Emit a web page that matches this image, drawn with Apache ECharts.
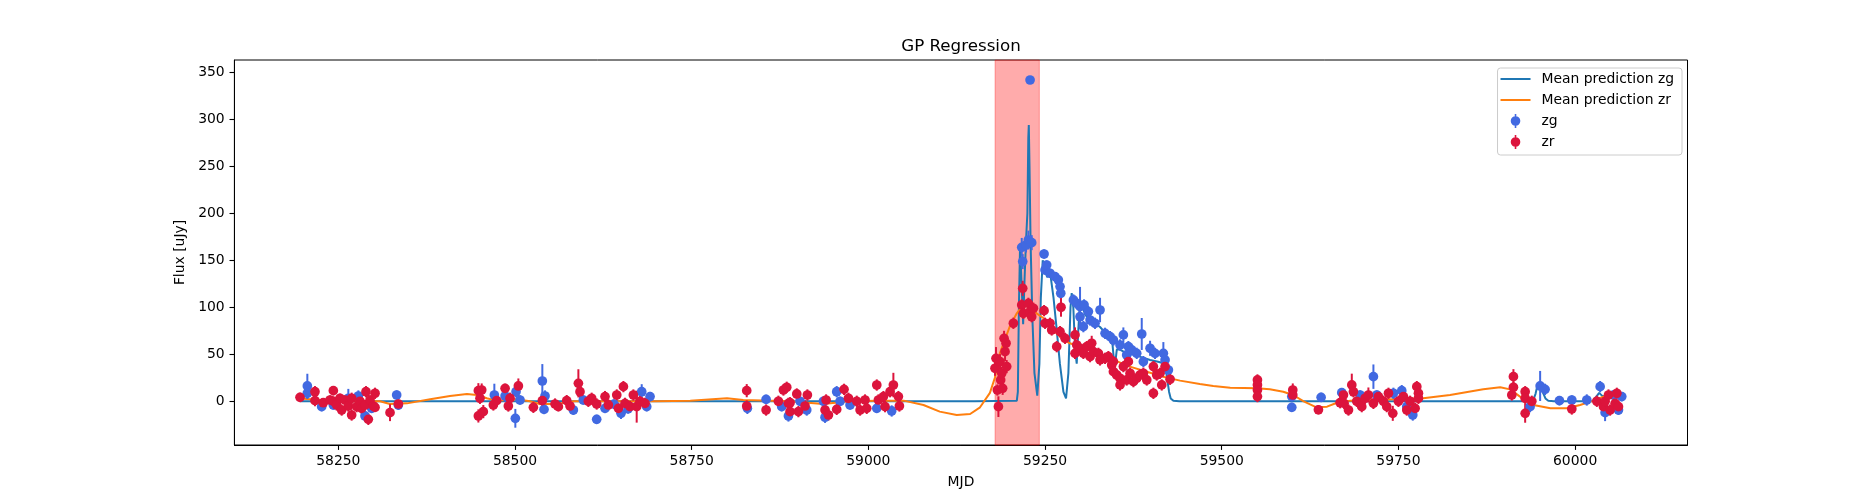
<!DOCTYPE html>
<html>
<head>
<meta charset="utf-8">
<title>GP Regression</title>
<script src="https://cdn.jsdelivr.net/npm/echarts@6/dist/echarts.min.js"></script>
<style>
  html, body { margin: 0; padding: 0; background: #fff; }
  #chart { width: 1875px; height: 500px; }
</style>
</head>
<body>
<div id="chart"></div>
<script>
// zg observations: MJD, flux [uJy], 1-sigma error
const zgMjd = [
  58206.2, 58206.2, 58226.5, 58243.0, 58264.2, 58278.4, 58287.8, 58297.2, 58332.6, 58335.0,
  58470.8, 58486.0, 58500.5, 58501.5, 58507.1, 58538.7, 58541.1, 58542.5, 58582.6, 58596.7,
  58615.6, 58627.4, 58640.0, 58650.0, 58660.0, 58679.3, 58686.4, 58691.1,
  58828.8, 58855.3, 58877.4, 58886.9, 58903.4, 58912.8, 58936.4, 58938.7, 58955.2, 58960.0,
  58974.1, 59011.9, 59033.0,
  59217.0, 59218.4, 59223.1, 59226.4, 59228.8, 59231.1, 59248.6, 59250.0, 59252.3, 59257.0,
  59264.1, 59268.8, 59271.2, 59272.2, 59290.1, 59294.8, 59299.5, 59299.5, 59304.2, 59305.2,
  59311.3, 59313.7, 59320.7, 59327.8, 59334.9, 59342.0, 59346.7, 59356.1, 59360.8, 59365.5,
  59367.9, 59372.6, 59379.7, 59386.8, 59389.1, 59398.6, 59405.6, 59417.4, 59419.8, 59424.5,
  59599.1, 59599.1, 59640.6, 59669.8, 59695.8, 59714.6, 59719.3, 59742.9, 59754.7, 59761.8,
  59770.3,
  59936.3, 59950.5, 59957.5, 59977.8, 59995.3, 60016.5, 60035.4, 60042.4, 60054.2, 60061.3,
  60066.0
]
const zgFlux = [
  16.3, 8.5, -5.7, -3.9, 3.2, 5.6, -15.6, -7.5, 6.7, -4.0,
  6.7, 5.6, -18.1, 10.2, 1.4, 21.6, -8.6, 5.6, -9.3, 1.4,
  -19.2, -7.5, -3.0, -12.8, -8.0, 10.2, -5.7, 5.0,
  -7.5, 2.1, -5.7, -15.6, 0.0, -9.3, 0.0, -17.0, 10.2, 0.0,
  -3.9, -7.5, -10.3,
  163.8, 148.6, 166.3, 171.6, 341.8, 168.8, 156.7, 139.7, 145.0, 136.2,
  132.6, 129.1, 122.0, 114.9, 107.8, 104.2, 100.7, 90.0, 79.4, 102.5,
  95.4, 86.5, 83.0, 97.1, 72.3, 68.8, 65.2, 59.9, 70.6, 49.3,
  58.1, 54.6, 51.0, 71.6, 42.2, 56.4, 51.0, 51.0, 44.0, 33.3,
  -6.4, 5.0, 4.2, 9.2, 6.7, 26.2, 6.7, 8.5, 11.3, -5.7,
  -14.6,
  -5.7, 16.3, 12.7, 0.7, 1.4, 1.4, 15.6, -12.1, 6.7, -9.3,
  5.0
]
const zgErr = [
  13, 6, 5, 5, 10, 6, 6, 5, 5, 5,
  12, 6, 10, 6, 5, 18, 5, 6, 5, 5,
  5, 5, 5, 6, 5, 8, 5, 5,
  6, 5, 5, 6, 5, 6, 5, 6, 6, 5,
  5, 5, 6,
  10, 8, 8, 10, 4, 8, 5, 5, 5, 5,
  5, 5, 5, 6, 6, 6, 21, 6, 6, 6,
  6, 6, 6, 13, 6, 6, 6, 6, 8, 6,
  6, 6, 6, 17, 6, 8, 6, 12, 6, 6,
  5, 5, 5, 5, 5, 13, 5, 6, 6, 5,
  6,
  6, 16, 6, 5, 5, 6, 6, 9, 5, 5,
  5
]

// zr observations
const zrMjd = [
  58195.8, 58217.0, 58217.0, 58228.8, 58238.3, 58243.0, 58243.0, 58247.7, 58252.4, 58254.8,
  58259.5, 58264.2, 58268.9, 58268.9, 58276.0, 58280.7, 58283.0, 58287.8, 58289.2, 58292.5,
  58294.9, 58299.6, 58302.0, 58302.0, 58323.2, 58335.0,
  58448.2, 58448.2, 58450.5, 58452.9, 58455.2, 58469.4, 58474.1, 58486.0, 58490.6, 58493.0,
  58504.8, 58526.0, 58538.7, 58556.7, 58561.4, 58573.2, 58577.9, 58589.7, 58592.0, 58603.8,
  58608.5, 58615.6, 58627.4, 58632.1, 58644.0, 58646.3, 58653.4, 58655.7, 58662.8, 58667.5,
  58672.2, 58676.9, 58684.0,
  58827.9, 58827.9, 58855.3, 58872.7, 58879.8, 58884.5, 58886.9, 58889.2, 58889.2, 58898.7,
  58901.0, 58910.4, 58913.7, 58938.7, 58940.2, 58943.5, 58955.2, 58965.6, 58971.8, 58983.6,
  58988.3, 58995.3, 58997.7, 59011.9, 59014.2, 59021.3, 59023.6, 59030.7, 59035.4, 59042.5,
  59043.9,
  59179.2, 59180.6, 59182.5, 59184.0, 59186.3, 59187.2, 59188.7, 59190.0, 59192.0, 59193.4,
  59194.8, 59195.7, 59205.2, 59217.0, 59218.4, 59219.3, 59226.4, 59228.8, 59231.1, 59233.5,
  59248.6, 59250.0, 59257.0, 59259.4, 59266.5, 59271.2, 59272.6, 59278.3, 59292.4, 59292.4,
  59294.8, 59299.5, 59304.2, 59309.0, 59313.7, 59316.0, 59318.4, 59325.5, 59327.8, 59334.9,
  59339.6, 59344.3, 59346.7, 59346.7, 59351.4, 59356.1, 59356.1, 59360.8, 59365.5, 59367.9,
  59370.3, 59375.0, 59379.7, 59384.4, 59389.1, 59393.9, 59403.3, 59403.3, 59408.0, 59412.7,
  59415.1, 59419.8, 59426.9,
  59550.5, 59550.5, 59550.5, 59550.5, 59600.5, 59600.5, 59636.8, 59667.5, 59672.2, 59673.1,
  59679.3, 59684.0, 59686.3, 59691.0, 59698.1, 59702.8, 59707.5, 59714.6, 59721.7, 59728.8,
  59733.5, 59735.9, 59742.0, 59750.0, 59757.1, 59761.8, 59766.5, 59773.6, 59776.0, 59778.3,
  59778.3,
  59910.4, 59912.7, 59912.7, 59929.3, 59929.3, 59929.3, 59938.7, 59995.3, 60030.7, 60040.1,
  60042.4, 60047.2, 60049.5, 60056.6, 60059.0, 60061.3
]
const zrFlux = [
  4.2, 10.2, 0.7, -1.5, 1.4, 11.3, 0.0, -3.9, 3.2, -9.3,
  1.4, -5.0, 3.2, -14.6, -5.7, 0.0, -7.5, -3.9, 10.2, -19.2,
  1.4, -5.0, 8.5, -6.4, -12.1, -2.9,
  11.3, -15.6, 3.2, 12.0, -11.0, -3.9, 0.7, 13.8, -5.0, 3.2,
  16.3, -6.4, 0.7, -2.9, -5.7, 0.7, -5.0, 19.1, 10.2, 0.0,
  3.2, -2.9, 5.0, -3.9, 6.7, -7.5, 15.6, -2.2, -5.7, 6.7,
  -5.7, 0.0, -2.2,
  11.3, -5.0, -9.3, 0.0, 12.0, 14.9, -2.2, -11.0, -1.5, 7.8,
  -11.0, -5.0, 6.7, -9.3, 1.4, -14.6, -8.6, 12.7, 3.2, 0.0,
  -9.3, 1.4, -7.5, 17.3, 1.4, 5.0, -5.7, 10.2, 17.3, 5.0,
  -5.0,
  35.1, 45.7, 12.0, -5.7, 42.2, 22.7, 29.8, 13.8, 67.0, 52.8,
  61.7, 36.9, 83.0, 102.5, 120.2, 93.6, 104.2, 95.4, 90.0, 99.0,
  96.4, 83.0, 83.0, 75.9, 58.1, 74.1, 100.0, 67.0, 70.6, 51.0,
  59.9, 56.4, 51.0, 58.1, 47.5, 61.7, 52.8, 51.0, 44.0, 45.7,
  47.5, 38.6, 31.5, 42.2, 28.0, 24.5, 17.4, 36.9, 22.7, 42.2,
  29.8, 20.9, 24.5, 28.0, 29.8, 22.7, 36.9, 8.5, 28.0, 29.8,
  17.4, 36.9, 23.4,
  22.7, 17.4, 12.0, 5.0, 12.0, 6.7, -9.0, -1.5, 6.7, -2.2,
  -9.3, 17.4, 10.2, 0.0, -5.7, 3.2, 6.7, -2.2, 5.0, 0.0,
  -5.7, 8.5, -12.8, 0.0, 5.0, -9.3, 0.0, -7.5, 15.6, 3.2,
  8.5,
  6.7, 26.2, 14.9, 10.2, 3.2, -12.8, 0.0, -8.2, 0.0, -5.7,
  0.0, 6.7, -9.3, -2.2, 8.5, -5.7
]
const zrErr = [
  5, 6, 6, 5, 5, 5, 5, 6, 5, 6,
  5, 6, 6, 6, 6, 5, 6, 5, 6, 6,
  5, 6, 6, 5, 9, 5,
  8, 7, 6, 7, 7, 6, 6, 5, 6, 6,
  8, 6, 6, 6, 5, 6, 6, 15, 8, 6,
  6, 6, 6, 6, 6, 6, 6, 6, 6, 6,
  17, 6, 6,
  7, 6, 6, 6, 6, 6, 6, 6, 6, 6,
  6, 6, 6, 6, 6, 6, 6, 6, 6, 6,
  6, 6, 6, 6, 6, 6, 6, 6, 13, 6,
  6,
  8, 12, 6, 11, 8, 7, 7, 7, 8, 10,
  8, 7, 6, 6, 8, 6, 6, 6, 6, 6,
  6, 6, 6, 6, 6, 6, 10, 6, 8, 6,
  6, 6, 6, 6, 6, 8, 6, 6, 6, 6,
  6, 6, 6, 6, 6, 6, 6, 6, 6, 6,
  6, 6, 6, 6, 6, 6, 6, 6, 6, 6,
  6, 6, 6,
  6, 6, 6, 6, 7, 6, 5, 6, 6, 6,
  6, 12, 6, 6, 6, 6, 8, 6, 6, 6,
  6, 6, 8, 6, 6, 6, 6, 6, 6, 6,
  6,
  6, 8, 6, 6, 6, 10, 6, 6, 6, 6,
  6, 6, 6, 6, 6, 6
]

// GP mean prediction, zg band
const predGMjd = [
  58196, 59150, 59210, 59211.5, 59213, 59214.6, 59216.5, 59219, 59221, 59223,
  59225, 59226.3, 59227, 59228, 59229.5, 59232, 59235, 59239, 59242, 59244,
  59246.7, 59250, 59253, 59257, 59262, 59266, 59271, 59276, 59279.7, 59283,
  59286, 59287.7, 59290, 59292.5, 59294.8, 59297, 59299.5, 59303, 59307, 59313.7,
  59320, 59327.8, 59335, 59342, 59345.5, 59348.5, 59351.5, 59356, 59363, 59370,
  59384, 59398.6, 59410, 59417.4, 59421, 59423, 59425.5, 59427.8, 59431.6, 59440,
  59940, 59944, 59947, 59950.5, 59954, 59958, 59962, 59970, 60025, 60030,
  60034, 60038, 60045, 60062
]
const predG = [
  0, 0, 0.5, 10, 100, 164, 130, 82, 130, 170,
  200, 280, 294, 250, 170, 90, 30, 6, 40, 110,
  150, 140, 132, 138, 110, 80, 40, 10, 3, 30,
  100, 115, 100, 55, 40, 75, 108, 100, 92, 86,
  83, 79, 73, 68, 60, 35, 55, 55, 52, 51,
  47.5, 44, 42, 40.4, 33, 22.7, 10, 3, 0.5, 0,
  0, 8, 18, 19, 10, 3, 0.5, 0, 0, 5,
  9, 6, 5, 5
]

// GP mean prediction, zr band
const predRMjd = [
  58196, 58230, 58270, 58309, 58323, 58347, 58380, 58408, 58432, 58446,
  58460, 58474, 58502, 58521, 58535, 58559, 58583, 58630, 58700, 58748,
  58800, 58823, 58889, 58936, 58974, 59012, 59050, 59078, 59101, 59125,
  59144, 59158, 59172, 59179, 59186, 59193, 59200, 59210, 59219, 59229,
  59238, 59248, 59257, 59271, 59285, 59300, 59323, 59347, 59370, 59394,
  59417, 59441, 59469, 59488, 59512, 59550, 59568, 59587, 59601, 59616,
  59634, 59649, 59663, 59682, 59785, 59823, 59870, 59894, 59908, 59922,
  59941, 59965, 59988, 60007, 60026, 60040, 60062
]
const predR = [
  3, 1, 0, 0, -2.9, -2.2, 2.1, 5.6, 7.8, 6.7,
  3.2, 0.7, 2.1, 0, -2.9, -2.9, 0, 0, 0, 0.7,
  3.2, 1.4, 0, -2.9, 0, 0.7, 0.7, -3.9, -11, -14.6,
  -13.5, -6.4, 9, 25, 51, 65.2, 79.4, 93.6, 102.5, 100.7,
  93.6, 88.3, 79.4, 68.8, 61.7, 58.1, 51, 44, 36.9, 31.5,
  26.2, 22, 18.5, 16.3, 14.5, 13.8, 12.7, 10.2, 6.7, 0,
  -6.4, -5.7, -1.5, 0.7, 3.2, 6.7, 12.7, 14.9, 12.7, 5,
  -3.9, -7.5, -7.5, -3.9, 0.7, 5, 6.7
]

// shaded interval and ticks
const spanStart = 59179.3
const spanEnd = 59241.9
const xTicks = [58250, 58500, 58750, 59000, 59250, 59500, 59750, 60000]
const yTicks = [0, 50, 100, 150, 200, 250, 300, 350]

const FONT = 'DejaVu Sans'
const X_MIN = 58103
const X_MAX = 60159
const Y_MIN = -46.5
const Y_MAX = 363.1
const ERR_ICON = 'path://M0,7 A4.8,4.8 0 1,1 9.6,7 A4.8,4.8 0 1,1 0,7 Z M4,0 L5.6,0 L5.6,14 L4,14 Z'
const LINE_ICON = 'path://M0,0 L30,0 L30,2 L0,2 Z'

function pairs(xs, ys) {
  return xs.map((x, i) => [x, ys[i]])
}

// vertical error bars drawn through the axes' own coordinate system
function errorBars(name, mjd, flux, err, color) {
  return {
    name: name,
    type: 'custom',
    z: 3,
    clip: true,
    silent: true,
    encode: { x: 0, y: 1 },
    data: mjd.map((t, i) => [t, flux[i], err[i]]),
    renderItem(params, api) {
      const t = api.value(0)
      const f = api.value(1)
      const e = api.value(2)
      const lo = api.coord([t, f - e])
      const hi = api.coord([t, f + e])
      return {
        type: 'line',
        shape: { x1: lo[0], y1: lo[1], x2: hi[0], y2: hi[1] },
        style: { stroke: color, lineWidth: 2 }
      }
    }
  }
}

function points(name, mjd, flux, color) {
  return {
    name: name,
    type: 'scatter',
    z: 3,
    symbol: 'circle',
    symbolSize: 9.7,
    itemStyle: { color: color, opacity: 1 },
    data: pairs(mjd, flux)
  }
}

const chart = echarts.init(document.getElementById('chart'), null, { renderer: 'canvas' })

const option = {
  animation: false,
  backgroundColor: '#fff',
  textStyle: { fontFamily: FONT },
  graphic: [{
    type: 'text',
    x: 961,
    y: 47,
    style: {
      text: 'GP Regression',
      fill: '#000',
      fontSize: 16.7,
      fontFamily: FONT,
      align: 'center',
      verticalAlign: 'middle'
    }
  }],
  grid: {
    left: 234.4,
    right: 187.5,
    top: 60,
    bottom: 55,
    show: true,
    borderColor: '#000',
    borderWidth: 1,
    containLabel: false,
    outerBoundsMode: 'none'
  },
  legend: {
    orient: 'vertical',
    right: 193,
    top: 68,
    padding: [4, 8, 6, 3],
    itemWidth: 30,
    itemHeight: 14,
    itemGap: 7,
    backgroundColor: 'rgba(255,255,255,0.8)',
    borderColor: '#cccccc',
    borderWidth: 1,
    borderRadius: 3,
    textStyle: { fontSize: 13.9, color: '#000', fontFamily: FONT, lineHeight: 14, padding: [0, 0, 0, 6] },
    data: [
      { name: 'Mean prediction zg', icon: LINE_ICON, itemStyle: { color: '#1f77b4', borderWidth: 0 } },
      { name: 'Mean prediction zr', icon: LINE_ICON, itemStyle: { color: '#ff7f0e', borderWidth: 0 } },
      { name: 'zg', icon: ERR_ICON, itemStyle: { color: '#4169e1', borderWidth: 0 } },
      { name: 'zr', icon: ERR_ICON, itemStyle: { color: '#dc143c', borderWidth: 0 } }
    ]
  },
  xAxis: {
    type: 'value',
    min: X_MIN,
    max: X_MAX,
    name: 'MJD',
    nameLocation: 'middle',
    nameGap: 30,
    nameTextStyle: { fontSize: 13.9, color: '#000', fontFamily: FONT },
    axisLine: { onZero: false, lineStyle: { color: '#000', width: 1 } },
    axisTick: { customValues: xTicks, length: 4.9, lineStyle: { color: '#000', width: 1.1 } },
    axisLabel: {
      customValues: xTicks,
      margin: 9.7,
      fontSize: 13.9,
      color: '#000',
      fontFamily: FONT,
      formatter: v => String(v)
    },
    splitLine: { show: false }
  },
  yAxis: {
    type: 'value',
    min: Y_MIN,
    max: Y_MAX,
    name: 'Flux [uJy]',
    nameLocation: 'middle',
    nameGap: 42,
    nameRotate: 90,
    nameTextStyle: { fontSize: 13.9, color: '#000', fontFamily: FONT },
    axisLine: { show: true, onZero: false, lineStyle: { color: '#000', width: 1 } },
    axisTick: { show: true, customValues: yTicks, length: 4.9, lineStyle: { color: '#000', width: 1.1 } },
    axisLabel: {
      customValues: yTicks,
      margin: 9.7,
      fontSize: 13.9,
      color: '#000',
      fontFamily: FONT,
      formatter: v => String(v)
    },
    splitLine: { show: false }
  },
  series: [
    {
      name: 'Mean prediction zg',
      type: 'line',
      z: 2,
      color: '#1f77b4',
      showSymbol: false,
      symbol: 'none',
      silent: true,
      lineStyle: { color: '#1f77b4', width: 2 },
      data: pairs(predGMjd, predG),
      markArea: {
        silent: true,
        z: 1,
        itemStyle: { color: 'rgba(255,0,0,0.33)', borderColor: 'rgba(255,0,0,0.33)', borderWidth: 1 },
        data: [[{ xAxis: spanStart }, { xAxis: spanEnd }]]
      }
    },
    {
      name: 'Mean prediction zr',
      type: 'line',
      z: 2,
      color: '#ff7f0e',
      showSymbol: false,
      symbol: 'none',
      silent: true,
      lineStyle: { color: '#ff7f0e', width: 2 },
      data: pairs(predRMjd, predR)
    },
    errorBars('zg', zgMjd, zgFlux, zgErr, '#4169e1'),
    points('zg', zgMjd, zgFlux, '#4169e1'),
    errorBars('zr', zrMjd, zrFlux, zrErr, '#dc143c'),
    points('zr', zrMjd, zrFlux, '#dc143c')
  ]
}

chart.setOption(option)
</script>
</body>
</html>
